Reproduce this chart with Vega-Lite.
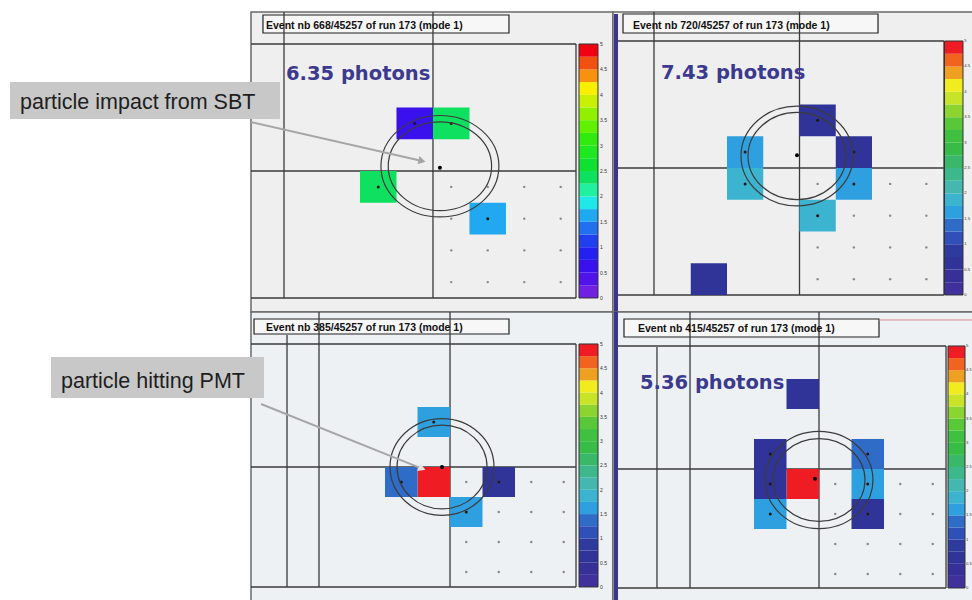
{
"$schema": "https://vega.github.io/schema/vega-lite/v6.json",
"padding": {"left": 9, "top": 10, "right": 0, "bottom": 0},
"config": {"view": {"stroke": null}, "axis": {"disable": true}, "legend": {"disable": true}},
"datasets": {
"bands": [{"lo":0,"hi":0.25},{"lo":0.25,"hi":0.5},{"lo":0.5,"hi":0.75},{"lo":0.75,"hi":1},{"lo":1,"hi":1.25},{"lo":1.25,"hi":1.5},{"lo":1.5,"hi":1.75},{"lo":1.75,"hi":2},{"lo":2,"hi":2.25},{"lo":2.25,"hi":2.5},{"lo":2.5,"hi":2.75},{"lo":2.75,"hi":3},{"lo":3,"hi":3.25},{"lo":3.25,"hi":3.5},{"lo":3.5,"hi":3.75},{"lo":3.75,"hi":4},{"lo":4,"hi":4.25},{"lo":4.25,"hi":4.5},{"lo":4.5,"hi":4.75},{"lo":4.75,"hi":5}],
"labels": [{"v":0,"t":"0"},{"v":0.5,"t":"0.5"},{"v":1,"t":"1"},{"v":1.5,"t":"1.5"},{"v":2,"t":"2"},{"v":2.5,"t":"2.5"},{"v":3,"t":"3"},{"v":3.5,"t":"3.5"},{"v":4,"t":"4"},{"v":4.5,"t":"4.5"},{"v":5,"t":"5"}],
"pmt": [{"cx":0.5,"cy":-0.5},{"cx":1.5,"cy":-0.5},{"cx":2.5,"cy":-0.5},{"cx":3.5,"cy":-0.5},{"cx":0.5,"cy":-1.5},{"cx":1.5,"cy":-1.5},{"cx":2.5,"cy":-1.5},{"cx":3.5,"cy":-1.5},{"cx":0.5,"cy":-2.5},{"cx":1.5,"cy":-2.5},{"cx":2.5,"cy":-2.5},{"cx":3.5,"cy":-2.5},{"cx":0.5,"cy":-3.5},{"cx":1.5,"cy":-3.5},{"cx":2.5,"cy":-3.5},{"cx":3.5,"cy":-3.5}],
"cells1": [{"x":-1,"x2":0,"y":1,"y2":2,"pe":0.6},{"x":0,"x2":1,"y":1,"y2":2,"pe":2.3},{"x":-2,"x2":-1,"y":-1,"y2":0,"pe":2.3},{"x":1,"x2":2,"y":-2,"y2":-1,"pe":1.6}],
"hit1": [{"cx":-0.5,"cy":1.5},{"cx":0.5,"cy":1.5},{"cx":-1.5,"cy":-0.5},{"cx":1.5,"cy":-1.5}],
"rings1": [{"cx":0.19,"cy":0.15,"r":1.416},{"cx":0.19,"cy":0.15,"r":1.616}],
"lines1": [{"x":-4.082,"x2":-4.082,"y":5.008,"y2":-4},{"x":0,"x2":0,"y":5.008,"y2":-4},{"x":-4.986,"x2":3.918,"y":4,"y2":4},{"x":-4.986,"x2":3.918,"y":0,"y2":0},{"x":-4.986,"x2":3.918,"y":-4,"y2":-4},{"x":3.918,"x2":3.918,"y":4,"y2":-4}],
"cells2": [{"x":0,"x2":1,"y":1,"y2":2,"pe":0.6},{"x":-2,"x2":-1,"y":0,"y2":1,"pe":1.6},{"x":-2,"x2":-1,"y":-1,"y2":0,"pe":1.85},{"x":1,"x2":2,"y":0,"y2":1,"pe":0.6},{"x":1,"x2":2,"y":-1,"y2":0,"pe":1.6},{"x":0,"x2":1,"y":-2,"y2":-1,"pe":1.85},{"x":-3,"x2":-2,"y":-4,"y2":-3,"pe":0.6}],
"hit2": [{"cx":0.5,"cy":1.5},{"cx":-1.5,"cy":0.5},{"cx":-1.5,"cy":-0.5},{"cx":1.5,"cy":0.5},{"cx":1.5,"cy":-0.5},{"cx":0.5,"cy":-1.5}],
"rings2": [{"cx":-0.069,"cy":0.378,"r":1.352},{"cx":-0.069,"cy":0.378,"r":1.545}],
"lines2": [{"x":-4.014,"x2":-4.014,"y":4.913,"y2":-4},{"x":0,"x2":0,"y":4.913,"y2":-4},{"x":-5.035,"x2":3.986,"y":4,"y2":4},{"x":-5.035,"x2":3.986,"y":0,"y2":0},{"x":-5.035,"x2":3.986,"y":-4,"y2":-4},{"x":3.986,"x2":3.986,"y":4,"y2":-4}],
"cells3": [{"x":-1,"x2":0,"y":-1,"y2":0,"pe":4.9},{"x":-1,"x2":0,"y":1,"y2":2,"pe":1.6},{"x":-2,"x2":-1,"y":-1,"y2":0,"pe":1.3},{"x":1,"x2":2,"y":-1,"y2":0,"pe":0.6},{"x":0,"x2":1,"y":-2,"y2":-1,"pe":1.6}],
"hit3": [{"cx":-0.5,"cy":1.5},{"cx":-1.5,"cy":-0.5},{"cx":1.5,"cy":-0.5},{"cx":0.5,"cy":-1.5}],
"rings3": [{"cx":-0.246,"cy":0,"r":1.385},{"cx":-0.246,"cy":0,"r":1.6}],
"lines3": [{"x":-5.015,"x2":-5.015,"y":4.4,"y2":-4},{"x":-4.031,"x2":-4.031,"y":5.167,"y2":-4},{"x":0,"x2":0,"y":5.167,"y2":-4},{"x":-6.123,"x2":3.877,"y":4.1,"y2":4.1},{"x":-6.123,"x2":3.877,"y":0,"y2":0},{"x":-6.123,"x2":3.877,"y":-4,"y2":-4},{"x":3.877,"x2":3.877,"y":4.1,"y2":-4}],
"cells4": [{"x":-1,"x2":0,"y":-1,"y2":0,"pe":4.9},{"x":-1,"x2":0,"y":2,"y2":3,"pe":0.6},{"x":-2,"x2":-1,"y":0,"y2":1,"pe":0.6},{"x":-2,"x2":-1,"y":-1,"y2":0,"pe":0.6},{"x":-2,"x2":-1,"y":-2,"y2":-1,"pe":1.6},{"x":1,"x2":2,"y":0,"y2":1,"pe":1.3},{"x":1,"x2":2,"y":-1,"y2":0,"pe":1.6},{"x":1,"x2":2,"y":-2,"y2":-1,"pe":0.6}],
"hit4": [{"cx":-1.5,"cy":0.5},{"cx":-1.5,"cy":-0.5},{"cx":-1.5,"cy":-1.5},{"cx":1.5,"cy":0.5},{"cx":1.5,"cy":-0.5},{"cx":1.5,"cy":-1.5}],
"rings4": [{"cx":0,"cy":-0.367,"r":1.415},{"cx":0,"cy":-0.367,"r":1.66}],
"lines4": [{"x":-4.985,"x2":-4.985,"y":4.07,"y2":-3.967},{"x":-3.969,"x2":-3.969,"y":5.233,"y2":-3.967},{"x":0,"x2":0,"y":5.233,"y2":-3.967},{"x":-6.215,"x2":3.908,"y":4.1,"y2":4.1},{"x":-6.215,"x2":3.908,"y":0,"y2":0},{"x":-6.215,"x2":3.908,"y":-3.967,"y2":-3.967},{"x":3.908,"x2":3.908,"y":4.1,"y2":-3.967}]
},
"concat": [
{
 "width": 362, "height": 300,
 "view": {"fill": "#efefef", "stroke": "#6a6a6a", "strokeWidth": 1.5},
 "layer": [
  {"layer": [
   {"data": {"values": [{}]}, "mark": {"type": "rect", "fill": "#f7f7f7", "stroke": "#222222", "strokeWidth": 1.2},
    "encoding": {"x": {"datum": -4.658, "type": "quantitative", "scale": {"domain": [-4.986, 4.932], "nice": false, "zero": false}, "axis": null}, "x2": {"datum": 2.082},
                 "y": {"datum": 4.913, "type": "quantitative", "scale": {"domain": [-4.441, 5.008], "nice": false, "zero": false}, "axis": null}, "y2": {"datum": 4.346}}},
   {"data": {"name": "lines1"}, "mark": {"type": "rule", "color": "#3a3a3a", "strokeWidth": 1.3},
    "encoding": {"x": {"field": "x", "type": "quantitative"}, "x2": {"field": "x2"}, "y": {"field": "y", "type": "quantitative"}, "y2": {"field": "y2"}}},
   {"data": {"name": "cells1"}, "mark": {"type": "rect"},
    "encoding": {"x": {"field": "x", "type": "quantitative"}, "x2": {"field": "x2"}, "y": {"field": "y", "type": "quantitative"}, "y2": {"field": "y2"},
     "color": {"field": "pe", "type": "quantitative", "legend": null, "scale": {"type": "threshold", "domain": [0.25,0.5,0.75,1,1.25,1.5,1.75,2,2.25,2.5,2.75,3,3.25,3.5,3.75,4,4.25,4.5,4.75], "range": ["#7020e0","#5014e8","#3a10ec","#2420f0","#2040f0","#2070f0","#20a8f0","#20e8e8","#20f0a0","#10e060","#10e030","#20e820","#30ea10","#60f000","#90f000","#c8f000","#f8f000","#f89010","#f05010","#f00010"]}}}},
   {"data": {"name": "pmt"}, "mark": {"type": "point", "filled": true, "color": "#8a8a8a", "size": 6, "opacity": 1},
    "encoding": {"x": {"field": "cx", "type": "quantitative"}, "y": {"field": "cy", "type": "quantitative"}}},
   {"data": {"name": "hit1"}, "mark": {"type": "point", "filled": true, "color": "#1a1a1a", "size": 9, "opacity": 1},
    "encoding": {"x": {"field": "cx", "type": "quantitative"}, "y": {"field": "cy", "type": "quantitative"}}},
   {"data": {"name": "rings1"}, "mark": {"type": "point", "filled": false, "color": "#3c3c3c", "strokeWidth": 1.2, "opacity": 1, "shape": "M -1 0 C -1 -0.475 -0.5523 -0.86 0 -0.86 C 0.5523 -0.86 1 -0.475 1 0 C 1 0.475 0.5523 0.86 0 0.86 C -0.5523 0.86 -1 0.475 -1 0 Z"},
    "encoding": {"x": {"field": "cx", "type": "quantitative"}, "y": {"field": "cy", "type": "quantitative"},
     "size": {"field": "r", "type": "quantitative", "legend": null, "scale": {"type": "pow", "exponent": 2, "domain": [0, 1], "range": [0, 5329]}}}},
   {"data": {"values": [{}]}, "mark": {"type": "point", "filled": true, "color": "#000000", "size": 16, "opacity": 1},
    "encoding": {"x": {"datum": 0.19, "type": "quantitative"}, "y": {"datum": 0.1, "type": "quantitative"}}},
   {"data": {"values": [{}]}, "mark": {"type": "text", "text": "6.35 photons", "font": "DejaVu Sans", "fontWeight": "bold", "fontSize": 19.5, "color": "#3b3a8f", "align": "left", "baseline": "alphabetic"},
    "encoding": {"x": {"datum": -4.027, "type": "quantitative"}, "y": {"datum": 2.857, "type": "quantitative"}}},
   {"data": {"values": [{}]}, "mark": {"type": "text", "text": "Event nb 668/45257 of run 173 (mode 1)", "font": "Liberation Sans", "fontWeight": "bold", "fontSize": 10.5, "color": "#111111", "align": "left", "baseline": "alphabetic"},
    "encoding": {"x": {"datum": -4.575, "type": "quantitative"}, "y": {"datum": 4.472, "type": "quantitative"}}},
   {"data": {"values": [{}]}, "mark": {"type": "rule", "color": "#a6a6a6", "strokeWidth": 2},
    "encoding": {"x": {"datum": -4.986, "type": "quantitative"}, "x2": {"datum": -0.356}, "y": {"datum": 1.543, "type": "quantitative"}, "y2": {"datum": 0.33}}},
   {"data": {"values": [{}]}, "mark": {"type": "point", "shape": "triangle-right", "filled": true, "color": "#a6a6a6", "size": 70, "angle": 13, "opacity": 1},
    "encoding": {"x": {"datum": -0.301, "type": "quantitative"}, "y": {"datum": 0.315, "type": "quantitative"}}},
   {"data": {"values": [{}]}, "mark": {"type": "rect", "fill": "#c8c8c8"},
    "encoding": {"x": {"datum": -11.589, "type": "quantitative"}, "x2": {"datum": -4.192}, "y": {"datum": 2.803, "type": "quantitative"}, "y2": {"datum": 1.638}}},
   {"data": {"values": [{}]}, "mark": {"type": "text", "text": "particle impact from SBT", "font": "Liberation Sans", "fontSize": 21.5, "color": "#1e1e1e", "align": "left", "baseline": "alphabetic"},
    "encoding": {"x": {"datum": -11.315, "type": "quantitative"}, "y": {"datum": 1.953, "type": "quantitative"}}}
  ]},
  {"layer": [
   {"data": {"name": "bands"}, "mark": {"type": "rect"},
    "encoding": {"x": {"datum": 4.0, "type": "quantitative"}, "x2": {"datum": 4.521},
     "y": {"field": "lo", "type": "quantitative", "scale": {"domain": [-0.276, 5.63], "nice": false, "zero": false}, "axis": null}, "y2": {"field": "hi"},
     "color": {"field": "lo", "type": "quantitative", "legend": null, "scale": {"type": "threshold", "domain": [0.25,0.5,0.75,1,1.25,1.5,1.75,2,2.25,2.5,2.75,3,3.25,3.5,3.75,4,4.25,4.5,4.75], "range": ["#7020e0","#5014e8","#3a10ec","#2420f0","#2040f0","#2070f0","#20a8f0","#20e8e8","#20f0a0","#10e060","#10e030","#20e820","#30ea10","#60f000","#90f000","#c8f000","#f8f000","#f89010","#f05010","#f00010"]}}}},
   {"data": {"values": [{}]}, "mark": {"type": "rect", "filled": false, "color": "#333333", "strokeWidth": 1},
    "encoding": {"x": {"datum": 4.0, "type": "quantitative"}, "x2": {"datum": 4.521}, "y": {"datum": 0, "type": "quantitative"}, "y2": {"datum": 5}}},
   {"data": {"name": "labels"}, "mark": {"type": "text", "fontSize": 5, "font": "Liberation Sans", "color": "#333333", "align": "left", "baseline": "middle"},
    "encoding": {"x": {"datum": 4.575, "type": "quantitative"}, "y": {"field": "v", "type": "quantitative"}, "text": {"field": "t"}}}
  ]}
 ],
 "resolve": {"scale": {"y": "independent"}}
},
{
 "width": 360, "height": 300,
 "view": {"fill": "#efefef", "stroke": "#6a6a6a", "strokeWidth": 1.5},
 "layer": [
  {"layer": [
   {"data": {"values": [{}]}, "mark": {"type": "rect", "fill": "#f7f7f7", "stroke": "#222222", "strokeWidth": 1.2},
    "encoding": {"x": {"datum": -4.869, "type": "quantitative", "scale": {"domain": [-5.145, 4.786], "nice": false, "zero": false}, "axis": null}, "x2": {"datum": 2.166},
                 "y": {"datum": 4.85, "type": "quantitative", "scale": {"domain": [-4.535, 4.913], "nice": false, "zero": false}, "axis": null}, "y2": {"datum": 4.252}}},
   {"data": {"name": "lines2"}, "mark": {"type": "rule", "color": "#3a3a3a", "strokeWidth": 1.3},
    "encoding": {"x": {"field": "x", "type": "quantitative"}, "x2": {"field": "x2"}, "y": {"field": "y", "type": "quantitative"}, "y2": {"field": "y2"}}},
   {"data": {"values": [{}]}, "mark": {"type": "rule", "color": "#3b3590", "strokeWidth": 4},
    "encoding": {"x": {"datum": -5.062, "type": "quantitative"}, "y": {"datum": -4.535, "type": "quantitative"}, "y2": {"datum": 4.85}}},
   {"data": {"name": "cells2"}, "mark": {"type": "rect"},
    "encoding": {"x": {"field": "x", "type": "quantitative"}, "x2": {"field": "x2"}, "y": {"field": "y", "type": "quantitative"}, "y2": {"field": "y2"},
     "color": {"field": "pe", "type": "quantitative", "legend": null, "scale": {"type": "threshold", "domain": [0.25,0.5,0.75,1,1.25,1.5,1.75,2,2.25,2.5,2.75,3,3.25,3.5,3.75,4,4.25,4.5,4.75], "range": ["#40309c","#363098","#303498","#2e3a9e","#2e50b8","#2e6cc8","#2ea0e0","#3cb4d0","#44b8b0","#3cb88c","#38b868","#38bc48","#40c040","#58c838","#8cd430","#c8e428","#f0ec20","#f0a020","#f06420","#f01c24"]}}}},
   {"data": {"name": "pmt"}, "mark": {"type": "point", "filled": true, "color": "#8a8a8a", "size": 6, "opacity": 1},
    "encoding": {"x": {"field": "cx", "type": "quantitative"}, "y": {"field": "cy", "type": "quantitative"}}},
   {"data": {"name": "hit2"}, "mark": {"type": "point", "filled": true, "color": "#1a1a1a", "size": 9, "opacity": 1},
    "encoding": {"x": {"field": "cx", "type": "quantitative"}, "y": {"field": "cy", "type": "quantitative"}}},
   {"data": {"name": "rings2"}, "mark": {"type": "point", "filled": false, "color": "#3c3c3c", "strokeWidth": 1.2, "opacity": 1, "shape": "M -1 0 C -1 -0.49 -0.5523 -0.89 0 -0.89 C 0.5523 -0.89 1 -0.49 1 0 C 1 0.49 0.5523 0.89 0 0.89 C -0.5523 0.89 -1 0.49 -1 0 Z"},
    "encoding": {"x": {"field": "cx", "type": "quantitative"}, "y": {"field": "cy", "type": "quantitative"},
     "size": {"field": "r", "type": "quantitative", "legend": null, "scale": {"type": "pow", "exponent": 2, "domain": [0, 1], "range": [0, 5256]}}}},
   {"data": {"values": [{}]}, "mark": {"type": "point", "filled": true, "color": "#000000", "size": 16, "opacity": 1},
    "encoding": {"x": {"datum": -0.069, "type": "quantitative"}, "y": {"datum": 0.4, "type": "quantitative"}}},
   {"data": {"values": [{}]}, "mark": {"type": "text", "text": "7.43 photons", "font": "DejaVu Sans", "fontWeight": "bold", "fontSize": 19.5, "color": "#3b3a8f", "align": "left", "baseline": "alphabetic"},
    "encoding": {"x": {"datum": -3.821, "type": "quantitative"}, "y": {"datum": 2.803, "type": "quantitative"}}},
   {"data": {"values": [{}]}, "mark": {"type": "text", "text": "Event nb 720/45257 of run 173 (mode 1)", "font": "Liberation Sans", "fontWeight": "bold", "fontSize": 10.5, "color": "#111111", "align": "left", "baseline": "alphabetic"},
    "encoding": {"x": {"datum": -4.593, "type": "quantitative"}, "y": {"datum": 4.378, "type": "quantitative"}}}
  ]},
  {"layer": [
   {"data": {"name": "bands"}, "mark": {"type": "rect"},
    "encoding": {"x": {"datum": 4.0, "type": "quantitative"}, "x2": {"datum": 4.51},
     "y": {"field": "lo", "type": "quantitative", "scale": {"domain": [-0.335, 5.571], "nice": false, "zero": false}, "axis": null}, "y2": {"field": "hi"},
     "color": {"field": "lo", "type": "quantitative", "legend": null, "scale": {"type": "threshold", "domain": [0.25,0.5,0.75,1,1.25,1.5,1.75,2,2.25,2.5,2.75,3,3.25,3.5,3.75,4,4.25,4.5,4.75], "range": ["#40309c","#363098","#303498","#2e3a9e","#2e50b8","#2e6cc8","#2ea0e0","#3cb4d0","#44b8b0","#3cb88c","#38b868","#38bc48","#40c040","#58c838","#8cd430","#c8e428","#f0ec20","#f0a020","#f06420","#f01c24"]}}}},
   {"data": {"values": [{}]}, "mark": {"type": "rect", "filled": false, "color": "#333333", "strokeWidth": 1},
    "encoding": {"x": {"datum": 4.0, "type": "quantitative"}, "x2": {"datum": 4.51}, "y": {"datum": 0, "type": "quantitative"}, "y2": {"datum": 5}}},
   {"data": {"name": "labels"}, "mark": {"type": "text", "fontSize": 4.2, "font": "Liberation Sans", "color": "#333333", "align": "left", "baseline": "middle"},
    "encoding": {"x": {"datum": 4.545, "type": "quantitative"}, "y": {"field": "v", "type": "quantitative"}, "text": {"field": "t"}}}
  ]}
 ],
 "resolve": {"scale": {"y": "independent"}}
},
{
 "width": 362, "height": 290,
 "view": {"fill": "#eef1f4", "stroke": "#6a6a6a", "strokeWidth": 1.5},
 "layer": [
  {"layer": [
   {"data": {"values": [{}]}, "mark": {"type": "rect", "fill": "#f7f7f7", "stroke": "#222222", "strokeWidth": 1.2},
    "encoding": {"x": {"datum": -6.03, "type": "quantitative", "scale": {"domain": [-6.123, 5.015], "nice": false, "zero": false}, "axis": null}, "x2": {"datum": 1.815},
                 "y": {"datum": 4.933, "type": "quantitative", "scale": {"domain": [-4.5, 5.167], "nice": false, "zero": false}, "axis": null}, "y2": {"datum": 4.433}}},
   {"data": {"name": "lines3"}, "mark": {"type": "rule", "color": "#3a3a3a", "strokeWidth": 1.3},
    "encoding": {"x": {"field": "x", "type": "quantitative"}, "x2": {"field": "x2"}, "y": {"field": "y", "type": "quantitative"}, "y2": {"field": "y2"}}},
   {"data": {"name": "cells3"}, "mark": {"type": "rect"},
    "encoding": {"x": {"field": "x", "type": "quantitative"}, "x2": {"field": "x2"}, "y": {"field": "y", "type": "quantitative"}, "y2": {"field": "y2"},
     "color": {"field": "pe", "type": "quantitative", "legend": null, "scale": {"type": "threshold", "domain": [0.25,0.5,0.75,1,1.25,1.5,1.75,2,2.25,2.5,2.75,3,3.25,3.5,3.75,4,4.25,4.5,4.75], "range": ["#40309c","#363098","#303498","#2e3a9e","#2e50b8","#2e6cc8","#2ea0e0","#3cb4d0","#44b8b0","#3cb88c","#38b868","#38bc48","#40c040","#58c838","#8cd430","#c8e428","#f0ec20","#f0a020","#f06420","#f01c24"]}}}},
   {"data": {"name": "pmt"}, "mark": {"type": "point", "filled": true, "color": "#8a8a8a", "size": 6, "opacity": 1},
    "encoding": {"x": {"field": "cx", "type": "quantitative"}, "y": {"field": "cy", "type": "quantitative"}}},
   {"data": {"name": "hit3"}, "mark": {"type": "point", "filled": true, "color": "#1a1a1a", "size": 9, "opacity": 1},
    "encoding": {"x": {"field": "cx", "type": "quantitative"}, "y": {"field": "cy", "type": "quantitative"}}},
   {"data": {"name": "rings3"}, "mark": {"type": "point", "filled": false, "color": "#3c3c3c", "strokeWidth": 1.2, "opacity": 1, "shape": "M -1 0 C -1 -0.514 -0.5523 -0.93 0 -0.93 C 0.5523 -0.93 1 -0.514 1 0 C 1 0.514 0.5523 0.93 0 0.93 C -0.5523 0.93 -1 0.514 -1 0 Z"},
    "encoding": {"x": {"field": "cx", "type": "quantitative"}, "y": {"field": "cy", "type": "quantitative"},
     "size": {"field": "r", "type": "quantitative", "legend": null, "scale": {"type": "pow", "exponent": 2, "domain": [0, 1], "range": [0, 4225]}}}},
   {"data": {"values": [{}]}, "mark": {"type": "point", "filled": true, "color": "#000000", "size": 16, "opacity": 1},
    "encoding": {"x": {"datum": -0.246, "type": "quantitative"}, "y": {"datum": 0, "type": "quantitative"}}},
   {"data": {"values": [{}]}, "mark": {"type": "text", "text": "Event nb 385/45257 of run 173 (mode 1)", "font": "Liberation Sans", "fontWeight": "bold", "fontSize": 10.5, "color": "#111111", "align": "left", "baseline": "alphabetic"},
    "encoding": {"x": {"datum": -5.662, "type": "quantitative"}, "y": {"datum": 4.533, "type": "quantitative"}}},
   {"data": {"values": [{}]}, "mark": {"type": "rule", "color": "#a6a6a6", "strokeWidth": 2},
    "encoding": {"x": {"datum": -5.815, "type": "quantitative"}, "x2": {"datum": -0.92}, "y": {"datum": 2.1, "type": "quantitative"}, "y2": {"datum": -0.03}}},
   {"data": {"values": [{}]}, "mark": {"type": "point", "shape": "triangle-right", "filled": true, "color": "#e2e2e2", "size": 70, "angle": 22, "opacity": 1},
    "encoding": {"x": {"datum": -0.862, "type": "quantitative"}, "y": {"datum": -0.05, "type": "quantitative"}}},
   {"data": {"values": [{}]}, "mark": {"type": "rect", "fill": "#c8c8c8"},
    "encoding": {"x": {"datum": -12.277, "type": "quantitative"}, "x2": {"datum": -5.723}, "y": {"datum": 3.667, "type": "quantitative"}, "y2": {"datum": 2.3}}},
   {"data": {"values": [{}]}, "mark": {"type": "text", "text": "particle hitting PMT", "font": "Liberation Sans", "fontSize": 21.5, "color": "#1e1e1e", "align": "left", "baseline": "alphabetic"},
    "encoding": {"x": {"datum": -11.969, "type": "quantitative"}, "y": {"datum": 2.633, "type": "quantitative"}}}
  ]},
  {"layer": [
   {"data": {"name": "bands"}, "mark": {"type": "rect"},
    "encoding": {"x": {"datum": 3.969, "type": "quantitative"}, "x2": {"datum": 4.554},
     "y": {"field": "lo", "type": "quantitative", "scale": {"domain": [-0.309, 5.658], "nice": false, "zero": false}, "axis": null}, "y2": {"field": "hi"},
     "color": {"field": "lo", "type": "quantitative", "legend": null, "scale": {"type": "threshold", "domain": [0.25,0.5,0.75,1,1.25,1.5,1.75,2,2.25,2.5,2.75,3,3.25,3.5,3.75,4,4.25,4.5,4.75], "range": ["#40309c","#363098","#303498","#2e3a9e","#2e50b8","#2e6cc8","#2ea0e0","#3cb4d0","#44b8b0","#3cb88c","#38b868","#38bc48","#40c040","#58c838","#8cd430","#c8e428","#f0ec20","#f0a020","#f06420","#f01c24"]}}}},
   {"data": {"values": [{}]}, "mark": {"type": "rect", "filled": false, "color": "#333333", "strokeWidth": 1},
    "encoding": {"x": {"datum": 3.969, "type": "quantitative"}, "x2": {"datum": 4.554}, "y": {"datum": 0, "type": "quantitative"}, "y2": {"datum": 5}}},
   {"data": {"name": "labels"}, "mark": {"type": "text", "fontSize": 5, "font": "Liberation Sans", "color": "#333333", "align": "left", "baseline": "middle"},
    "encoding": {"x": {"datum": 4.615, "type": "quantitative"}, "y": {"field": "v", "type": "quantitative"}, "text": {"field": "t"}}}
  ]}
 ],
 "resolve": {"scale": {"y": "independent"}}
},
{
 "width": 360, "height": 290,
 "view": {"fill": "#eef1f4", "stroke": "#6a6a6a", "strokeWidth": 1.5},
 "layer": [
  {"layer": [
   {"data": {"values": [{}]}, "mark": {"type": "rect", "fill": "#f7f7f7", "stroke": "#222222", "strokeWidth": 1.2},
    "encoding": {"x": {"datum": -6.0, "type": "quantitative", "scale": {"domain": [-6.338, 4.738], "nice": false, "zero": false}, "axis": null}, "x2": {"datum": 1.846},
                 "y": {"datum": 5.0, "type": "quantitative", "scale": {"domain": [-4.433, 5.233], "nice": false, "zero": false}, "axis": null}, "y2": {"datum": 4.4}}},
   {"data": {"values": [{}]}, "mark": {"type": "rule", "color": "#d88a8a", "strokeWidth": 1},
    "encoding": {"x": {"datum": 1.846, "type": "quantitative"}, "x2": {"datum": 4.738}, "y": {"datum": 4.967, "type": "quantitative"}}},
   {"data": {"name": "lines4"}, "mark": {"type": "rule", "color": "#3a3a3a", "strokeWidth": 1.3},
    "encoding": {"x": {"field": "x", "type": "quantitative"}, "x2": {"field": "x2"}, "y": {"field": "y", "type": "quantitative"}, "y2": {"field": "y2"}}},
   {"data": {"values": [{}]}, "mark": {"type": "rule", "color": "#3b3590", "strokeWidth": 4},
    "encoding": {"x": {"datum": -6.246, "type": "quantitative"}, "y": {"datum": -4.433, "type": "quantitative"}, "y2": {"datum": 5.233}}},
   {"data": {"name": "cells4"}, "mark": {"type": "rect"},
    "encoding": {"x": {"field": "x", "type": "quantitative"}, "x2": {"field": "x2"}, "y": {"field": "y", "type": "quantitative"}, "y2": {"field": "y2"},
     "color": {"field": "pe", "type": "quantitative", "legend": null, "scale": {"type": "threshold", "domain": [0.25,0.5,0.75,1,1.25,1.5,1.75,2,2.25,2.5,2.75,3,3.25,3.5,3.75,4,4.25,4.5,4.75], "range": ["#40309c","#363098","#303498","#2e3a9e","#2e50b8","#2e6cc8","#2ea0e0","#3cb4d0","#44b8b0","#3cb88c","#38b868","#38bc48","#40c040","#58c838","#8cd430","#c8e428","#f0ec20","#f0a020","#f06420","#f01c24"]}}}},
   {"data": {"name": "pmt"}, "mark": {"type": "point", "filled": true, "color": "#8a8a8a", "size": 6, "opacity": 1},
    "encoding": {"x": {"field": "cx", "type": "quantitative"}, "y": {"field": "cy", "type": "quantitative"}}},
   {"data": {"name": "hit4"}, "mark": {"type": "point", "filled": true, "color": "#1a1a1a", "size": 9, "opacity": 1},
    "encoding": {"x": {"field": "cx", "type": "quantitative"}, "y": {"field": "cy", "type": "quantitative"}}},
   {"data": {"name": "rings4"}, "mark": {"type": "point", "filled": false, "color": "#3c3c3c", "strokeWidth": 1.2, "opacity": 1, "shape": "M -1 0 C -1 -0.497 -0.5523 -0.9 0 -0.9 C 0.5523 -0.9 1 -0.497 1 0 C 1 0.497 0.5523 0.9 0 0.9 C -0.5523 0.9 -1 0.497 -1 0 Z"},
    "encoding": {"x": {"field": "cx", "type": "quantitative"}, "y": {"field": "cy", "type": "quantitative"},
     "size": {"field": "r", "type": "quantitative", "legend": null, "scale": {"type": "pow", "exponent": 2, "domain": [0, 1], "range": [0, 4225]}}}},
   {"data": {"values": [{}]}, "mark": {"type": "point", "filled": true, "color": "#000000", "size": 16, "opacity": 1},
    "encoding": {"x": {"datum": -0.123, "type": "quantitative"}, "y": {"datum": -0.323, "type": "quantitative"}}},
   {"data": {"values": [{}]}, "mark": {"type": "text", "text": "5.36 photons", "font": "DejaVu Sans", "fontWeight": "bold", "fontSize": 19.5, "color": "#3b3a8f", "align": "left", "baseline": "alphabetic"},
    "encoding": {"x": {"datum": -5.508, "type": "quantitative"}, "y": {"datum": 2.667, "type": "quantitative"}}},
   {"data": {"values": [{}]}, "mark": {"type": "text", "text": "Event nb 415/45257 of run 173 (mode 1)", "font": "Liberation Sans", "fontWeight": "bold", "fontSize": 10.5, "color": "#111111", "align": "left", "baseline": "alphabetic"},
    "encoding": {"x": {"datum": -5.569, "type": "quantitative"}, "y": {"datum": 4.567, "type": "quantitative"}}}
  ]},
  {"layer": [
   {"data": {"name": "bands"}, "mark": {"type": "rect"},
    "encoding": {"x": {"datum": 3.969, "type": "quantitative"}, "x2": {"datum": 4.492},
     "y": {"field": "lo", "type": "quantitative", "scale": {"domain": [-0.289, 5.702], "nice": false, "zero": false}, "axis": null}, "y2": {"field": "hi"},
     "color": {"field": "lo", "type": "quantitative", "legend": null, "scale": {"type": "threshold", "domain": [0.25,0.5,0.75,1,1.25,1.5,1.75,2,2.25,2.5,2.75,3,3.25,3.5,3.75,4,4.25,4.5,4.75], "range": ["#40309c","#363098","#303498","#2e3a9e","#2e50b8","#2e6cc8","#2ea0e0","#3cb4d0","#44b8b0","#3cb88c","#38b868","#38bc48","#40c040","#58c838","#8cd430","#c8e428","#f0ec20","#f0a020","#f06420","#f01c24"]}}}},
   {"data": {"values": [{}]}, "mark": {"type": "rect", "filled": false, "color": "#333333", "strokeWidth": 1},
    "encoding": {"x": {"datum": 3.969, "type": "quantitative"}, "x2": {"datum": 4.492}, "y": {"datum": 0, "type": "quantitative"}, "y2": {"datum": 5}}},
   {"data": {"name": "labels"}, "mark": {"type": "text", "fontSize": 4.2, "font": "Liberation Sans", "color": "#333333", "align": "left", "baseline": "middle"},
    "encoding": {"x": {"datum": 4.52, "type": "quantitative"}, "y": {"field": "v", "type": "quantitative"}, "text": {"field": "t"}}}
  ]}
 ],
 "resolve": {"scale": {"y": "independent"}}
}
],
"columns": 2,
"spacing": 0,
"bounds": "flush",
"resolve": {"scale": {"color": "independent", "size": "independent"}}
}
